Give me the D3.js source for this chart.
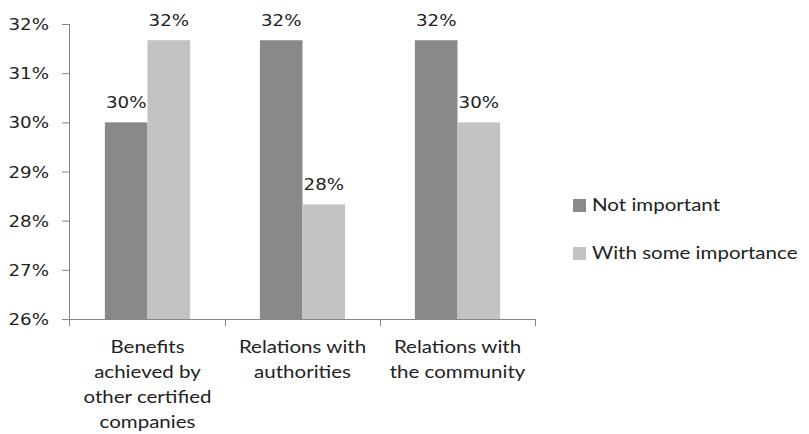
<!DOCTYPE html>
<html lang="en">
<head>
  <meta charset="UTF-8">
  <title>Importance of factors</title>
  <script src="https://d3js.org/d3.v7.min.js"></script>
  <style>
    body { margin: 0; background: #fff; }
    .tick-label { font-family: "DejaVu Sans", sans-serif; font-size: 16px; fill: #222; }
    .value-label { font-family: "DejaVu Sans", sans-serif; font-size: 16px; fill: #222; }
    .cat-label { font-family: Lato, sans-serif; font-size: 18px; fill: #222; }
    .legend-label { font-family: Lato, sans-serif; font-size: 18px; fill: #222; }
  </style>
</head>
<body>
<svg width="809" height="434"></svg>
<script>
  const categories = [
    ["Benefits", "achieved by", "other certified", "companies"],
    ["Relations with", "authorities"],
    ["Relations with", "the community"]
  ];
  const seriesNames = ["Not important", "With some importance"];
  const notImportant = [30.0, 31.67, 31.67];
  const someImportance = [31.67, 28.33, 30.0];
  const yTicks = [26, 27, 28, 29, 30, 31, 32];
  const colors = ["#898989", "#c3c3c3"];

  const svg = d3.select("svg");
  const plotLeft = 70, plotRight = 535, plotTop = 24, plotBottom = 319;
  const sx = 1.14; // the original picture is a bit wider than tall

  const catKeys = categories.map((c, i) => i);
  const x0 = d3.scaleBand().domain(catKeys).range([plotLeft, plotRight]).padding(0);
  const bw = x0.bandwidth();
  const x1 = d3.scaleBand().domain([0, 1])
    .range([bw * 0.225, bw * 0.775]).padding(0);

  const y = d3.scaleLinear().domain([26, 32]).range([plotBottom, plotTop]);

  const series = [notImportant, someImportance];

  // bars
  series.forEach((vals, s) => {
    svg.selectAll(".bar-" + s)
      .data(vals)
      .enter()
      .append("rect")
      .attr("x", (d, i) => x0(i) + x1(s))
      .attr("y", d => y(d))
      .attr("width", x1.bandwidth())
      .attr("height", d => plotBottom - y(d))
      .attr("fill", colors[s]);

    svg.selectAll(".val-" + s)
      .data(vals)
      .enter()
      .append("text")
      .attr("class", "value-label")
      .attr("transform", (d, i) =>
        `translate(${x0(i) + x1(s) + x1.bandwidth() / 2},${y(d) - 14}) scale(${sx},1)`)
      .attr("text-anchor", "middle")
      .text(d => Math.round(d) + "%");
  });

  // y axis
  const yAxis = svg.append("g")
    .attr("transform", `translate(${plotLeft},0)`)
    .call(d3.axisLeft(y).tickValues(yTicks).tickSize(8).tickFormat(d => d + "%"));
  yAxis.attr("font-family", null).attr("font-size", null);
  yAxis.select(".domain").attr("stroke", "#868686").attr("d", `M-0.5,${plotTop}V${plotBottom}`);
  yAxis.selectAll(".tick line").attr("stroke", "#868686");
  yAxis.selectAll(".tick text").attr("class", "tick-label")
    .attr("x", -21 / sx).attr("dy", "0.35em").attr("fill", null)
    .attr("transform", `scale(${sx},1)`);

  // x axis baseline with category separators
  const xAxis = svg.append("g");
  xAxis.append("line")
    .attr("x1", plotLeft).attr("x2", plotRight)
    .attr("y1", plotBottom + 0.5).attr("y2", plotBottom + 0.5)
    .attr("stroke", "#868686");
  xAxis.selectAll(".sep")
    .data(catKeys)
    .enter()
    .append("line")
    .attr("x1", d => x0(d) + bw + 0.5).attr("x2", d => x0(d) + bw + 0.5)
    .attr("y1", plotBottom).attr("y2", plotBottom + 7)
    .attr("stroke", "#868686");
  xAxis.append("line")
    .attr("x1", plotLeft - 0.5).attr("x2", plotLeft - 0.5)
    .attr("y1", plotBottom).attr("y2", plotBottom + 7)
    .attr("stroke", "#868686");

  // category labels
  categories.forEach((lines, i) => {
    svg.append("text")
      .attr("class", "cat-label")
      .attr("text-anchor", "middle")
      .attr("transform", `translate(${x0(i) + bw / 2},353) scale(${sx},1)`)
      .selectAll("tspan")
      .data(lines)
      .enter()
      .append("tspan")
      .attr("x", 0)
      .attr("y", (d, j) => j * 25)
      .text(d => d);
  });

  // legend
  const legend = svg.append("g").attr("transform", "translate(573,199)");
  seriesNames.forEach((name, s) => {
    legend.append("rect")
      .attr("x", 0).attr("y", s * 48)
      .attr("width", 13).attr("height", 13)
      .attr("fill", colors[s]);
    legend.append("text")
      .attr("class", "legend-label")
      .attr("transform", `translate(19,${s * 48 + 12}) scale(${sx},1)`)
      .text(name);
  });
</script>
</body>
</html>
